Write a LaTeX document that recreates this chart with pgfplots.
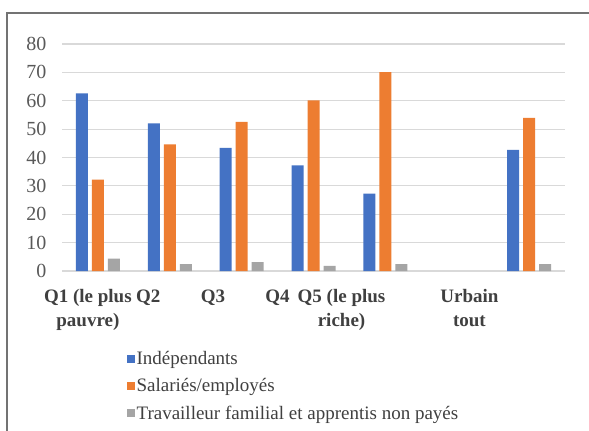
\documentclass[border=0pt]{standalone}
\usepackage{pgfplots}
\pgfplotsset{compat=1.18}
\usepackage{fontspec}
\setmainfont{Liberation Serif}
\definecolor{cblue}{HTML}{4472C4}
\definecolor{corange}{HTML}{ED7D31}
\definecolor{cgray}{HTML}{A5A5A5}
\definecolor{gridc}{HTML}{D9D9D9}
\definecolor{tickc}{HTML}{595959}
\definecolor{labc}{HTML}{404040}
\begin{document}
\begin{tikzpicture}
\useasboundingbox (0,0) rectangle (589pt,431pt);
\fill[white] (0,0) rectangle (589pt,431pt);
\draw[color=black!55, line width=1.5pt] (7pt,0) -- (7pt,418pt) -- (589pt,418pt);
\begin{axis}[
  at={(62pt,160pt)}, anchor=south west,
  scale only axis, width=503pt, height=227pt,
  xmin=-0.5, xmax=6.5, ymin=0, ymax=80,
  ytick={0,10,...,80},
  ymajorgrids, grid style={gridc, line width=1.2pt},
  axis line style={draw=none},
  major tick length=0pt,
  xtick={-0.14,0.70,1.60,2.50,3.39,5.17},
  xticklabels={Q1 (le plus\\pauvre), Q2, Q3, Q4, Q5 (le plus\\riche), Urbain\\tout},
  xticklabel style={align=center, font=\fontsize{19}{24}\selectfont\bfseries, text=labc, yshift=-15pt},
  yticklabel style={font=\fontsize{20}{24}\selectfont, text=tickc, xshift=-12pt},
  /pgf/number format/assume math mode=true,
  ybar=4pt, bar width=12pt,
  legend cell align=left,
  legend style={at={(axis description cs:0.122,-0.335)}, anchor=north west, draw=none, fill=none,
    font=\fontsize{19}{22}\selectfont, text=labc, row sep=8.5pt,
    nodes={inner sep=2pt}},
]
\addplot[fill=cblue, draw=none, legend image code/.code={\fill[cblue] (0pt,-4pt) rectangle (8pt,4pt);}] coordinates {(0,62.6) (1,52.0) (2,43.4) (3,37.2) (4,27.3) (6,42.7)};
\addlegendentry{Indépendants}
\addplot[fill=corange, draw=none, legend image code/.code={\fill[corange] (0pt,-4pt) rectangle (8pt,4pt);}] coordinates {(0,32.2) (1,44.6) (2,52.6) (3,60.1) (4,70.1) (6,54.0)};
\addlegendentry{Salariés/employés}
\addplot[fill=cgray, draw=none, legend image code/.code={\fill[cgray] (0pt,-4pt) rectangle (8pt,4pt);}] coordinates {(0,4.4) (1,2.4) (2,3.1) (3,1.8) (4,2.4) (6,2.4)};
\addlegendentry{Travailleur familial et apprentis non payés}
\end{axis}
\end{tikzpicture}
\end{document}
